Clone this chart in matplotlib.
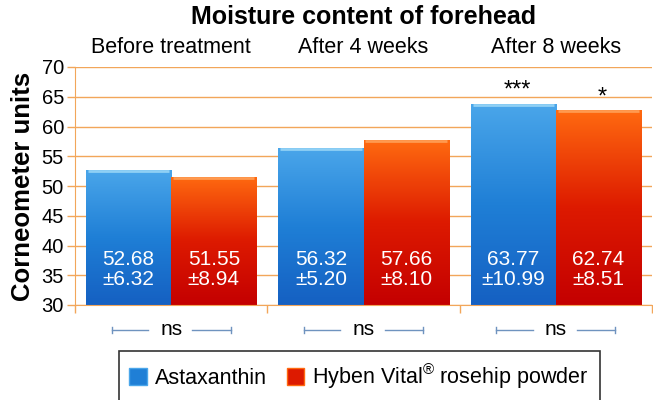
import numpy as np
import matplotlib
matplotlib.use('Agg')
from matplotlib import pyplot as plt
from matplotlib.colors import LinearSegmentedColormap
from matplotlib.patches import Patch

plt.rcParams['font.family'] = ['Liberation Sans', 'DejaVu Sans']
plt.rcParams['mathtext.fontset'] = 'custom'
plt.rcParams['mathtext.rm'] = 'Liberation Sans'

# data
groups = ['Before treatment', 'After 4 weeks', 'After 8 weeks']
astaxanthin = [52.68, 56.32, 63.77]
astaxanthin_sd = [6.32, 5.20, 10.99]
rosehip = [51.55, 57.66, 62.74]
rosehip_sd = [8.94, 8.10, 8.51]
astaxanthin_sig = ['', '', '***']
rosehip_sig = ['', '', '*']
between_sig = ['ns', 'ns', 'ns']

grid_col = '#f2a65a'
bracket_col = '#6f93bf'

blue_cmap = LinearSegmentedColormap.from_list('b', ['#1560c2', '#1f7fd6', '#4aa6ea'])
red_cmap = LinearSegmentedColormap.from_list('r', ['#c40000', '#dd1a00', '#ff6a10'])

fig = plt.figure(figsize=(6.53, 4.0), dpi=100)
ax = fig.add_axes([0.1149, 0.2375, 0.8836, 0.595])

x = np.arange(len(groups))
w = 0.443

# grid
ax.set_yticks(np.arange(30, 71, 5))
ax.yaxis.grid(True, color=grid_col, linewidth=1.0)
ax.set_axisbelow(True)


def gradient_bars(xs, vals, cmap, edge):
    bars = ax.bar(xs, vals, width=w, bottom=0, color='none', edgecolor='none', zorder=2)
    grad = np.linspace(0, 1, 256).reshape(-1, 1)
    for b in bars:
        x0 = b.get_x()
        x1 = x0 + b.get_width()
        top = b.get_height()
        im = ax.imshow(grad, cmap=cmap, origin='lower', aspect='auto',
                       extent=[x0, x1, 30, top], zorder=2)
        im.set_clip_path(b)
        # light highlight along the top
        ax.plot([x0 + 0.01, x1 - 0.01], [top - 0.15, top - 0.15], color=edge,
                linewidth=2, zorder=3, solid_capstyle='butt')
    return bars


gradient_bars(x - w / 2, astaxanthin, blue_cmap, '#8fd0f5')
gradient_bars(x + w / 2, rosehip, red_cmap, '#ff9a50')
ax.set_xlim(-0.5, len(groups) - 0.5)
ax.set_ylim(30, 70)

# values inside bars
for i in range(len(groups)):
    ax.text(x[i] - w / 2, 36.0, '%.2f\n±%.2f' % (astaxanthin[i], astaxanthin_sd[i]),
            ha='center', va='center', color='white', fontsize=15, linespacing=1.05, zorder=4)
    ax.text(x[i] + w / 2, 36.0, '%.2f\n±%.2f' % (rosehip[i], rosehip_sd[i]),
            ha='center', va='center', color='white', fontsize=15, linespacing=1.05, zorder=4)
    if astaxanthin_sig[i]:
        ax.text(x[i] - w / 2 + 0.02, astaxanthin[i] + 0.4, astaxanthin_sig[i],
                ha='center', va='bottom', fontsize=17)
    if rosehip_sig[i]:
        ax.text(x[i] + w / 2 + 0.02, rosehip[i] + 0.2, rosehip_sig[i],
                ha='center', va='bottom', fontsize=17)

# group labels on top
for i, g in enumerate(groups):
    ax.text(x[i], 1.08, g, transform=ax.get_xaxis_transform(), ha='center',
            va='center', fontsize=15.5, clip_on=False)

# ns brackets below the axis
trans = ax.get_xaxis_transform()
yb = -0.105
for i, s in enumerate(between_sig):
    ax.text(x[i], yb, s, transform=trans, ha='center', va='center', fontsize=15)
    for a, b in [(-0.31, -0.12), (0.11, 0.31)]:
        ax.plot([x[i] + a, x[i] + b], [yb, yb], transform=trans, color=bracket_col,
                linewidth=1, clip_on=False)
    for e in (-0.31, 0.31):
        ax.plot([x[i] + e, x[i] + e], [yb - 0.014, yb + 0.014], transform=trans,
                color=bracket_col, linewidth=1, clip_on=False)

# axes styling
ax.set_xticks(np.arange(len(groups) + 1) - 0.5)
ax.set_xticklabels([])
ax.tick_params(axis='x', length=6, color=grid_col, width=1)
ax.tick_params(axis='y', length=6, color=grid_col, width=1, labelsize=14.5, pad=2)
for side in ['left', 'bottom']:
    ax.spines[side].set_color(grid_col)
ax.spines['top'].set_visible(False)
ax.spines['right'].set_visible(False)

ax.set_ylabel('Corneometer units', fontsize=18.5, fontweight='bold', labelpad=5)
ax.text(0.5, 1.21, 'Moisture content of forehead', transform=ax.transAxes,
        ha='center', va='center', fontsize=18, fontweight='bold')

handles = [Patch(facecolor='#1f7fd6', edgecolor='#4aa6ea'),
           Patch(facecolor='#dd1a00', edgecolor='#ff6a10')]
labels = ['Astaxanthin', 'Hyben Vital$^{®}$ rosehip powder']
leg = fig.legend(handles, labels, ncol=2, loc='center', bbox_to_anchor=(0.55, 0.059),
                 fontsize=15.5, frameon=True, fancybox=False, edgecolor='black',
                 handlelength=0.8, handleheight=0.8, handletextpad=0.4, columnspacing=0.9,
                 borderpad=0.5, borderaxespad=0)
leg.get_frame().set_linewidth(1.2)

fig.savefig('out.png', dpi=100)
